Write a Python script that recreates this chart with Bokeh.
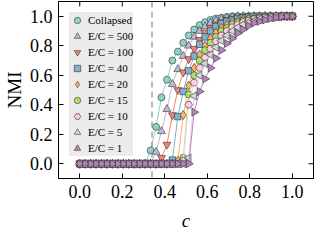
import math
from bokeh.plotting import figure
from bokeh.models import Span, FixedTicker, Range1d
from bokeh.embed import file_html
from bokeh.resources import INLINE

# ---- data -------------------------------------------------------------
c = [0.0, 0.0256, 0.0513, 0.0769, 0.1026, 0.1282, 0.1538, 0.1795, 0.2051, 0.2308,
     0.2564, 0.2821, 0.3077, 0.3333, 0.359, 0.3846, 0.4103, 0.4359, 0.4615, 0.4872,
     0.5128, 0.5385, 0.5641, 0.5897, 0.6154, 0.641, 0.6667, 0.6923, 0.7179, 0.7436,
     0.7692, 0.7949, 0.8205, 0.8462, 0.8718, 0.8974, 0.9231, 0.9487, 0.9744, 1.0]

collapsed = [0, 0, 0, 0, 0, 0, 0, 0, 0, 0, 0, 0, 0, 0.09, 0.25, 0.45, 0.57, 0.70, 0.76, 0.82,
             0.87, 0.91, 0.94, 0.96, 0.975, 0.985, 0.99, 0.995, 1.0, 1.0,
             1.0, 1.0, 1.0, 1.0, 1.0, 1.0, 1.0, 1.0, 1.0, 1.0]
ec500 = [0, 0, 0, 0, 0, 0, 0, 0, 0, 0, 0, 0, 0, 0, 0.08, 0.22, 0.37, 0.54, 0.64, 0.73,
         0.80, 0.86, 0.90, 0.93, 0.955, 0.97, 0.98, 0.99, 0.995, 1.0,
         1.0, 1.0, 1.0, 1.0, 1.0, 1.0, 1.0, 1.0, 1.0, 1.0]
ec100 = [0, 0, 0, 0, 0, 0, 0, 0, 0, 0, 0, 0, 0, 0, 0, 0.04, 0.13, 0.33, 0.50, 0.62,
         0.71, 0.78, 0.84, 0.89, 0.92, 0.945, 0.96, 0.975, 0.985, 0.99,
         0.995, 1.0, 1.0, 1.0, 1.0, 1.0, 1.0, 1.0, 1.0, 1.0]
ec40 = [0, 0, 0, 0, 0, 0, 0, 0, 0, 0, 0, 0, 0, 0, 0, 0, 0, 0.025, 0.32, 0.49,
        0.63, 0.73, 0.81, 0.86, 0.90, 0.93, 0.95, 0.965, 0.975, 0.985,
        0.99, 0.995, 1.0, 1.0, 1.0, 1.0, 1.0, 1.0, 1.0, 1.0]
ec20 = [0, 0, 0, 0, 0, 0, 0, 0, 0, 0, 0, 0, 0, 0, 0, 0, 0, 0, 0.02, 0.33,
        0.53, 0.65, 0.74, 0.80, 0.85, 0.89, 0.92, 0.94, 0.96, 0.97,
        0.98, 0.985, 0.99, 0.995, 1.0, 1.0, 1.0, 1.0, 1.0, 1.0]
ec15 = [0, 0, 0, 0, 0, 0, 0, 0, 0, 0, 0, 0, 0, 0, 0, 0, 0, 0, 0, 0.04,
        0.47, 0.60, 0.70, 0.77, 0.82, 0.86, 0.90, 0.92, 0.945, 0.96,
        0.97, 0.98, 0.985, 0.99, 0.995, 1.0, 1.0, 1.0, 1.0, 1.0]
ec10 = [0, 0, 0, 0, 0, 0, 0, 0, 0, 0, 0, 0, 0, 0, 0, 0, 0, 0, 0, 0.02,
        0.40, 0.55, 0.65, 0.72, 0.78, 0.83, 0.87, 0.90, 0.925, 0.945,
        0.96, 0.97, 0.98, 0.985, 0.99, 0.995, 1.0, 1.0, 1.0, 1.0]
ec5 = [0, 0, 0, 0, 0, 0, 0, 0, 0, 0, 0, 0, 0, 0, 0, 0, 0, 0, 0, 0,
       0.04, 0.46, 0.60, 0.68, 0.74, 0.79, 0.835, 0.87, 0.90, 0.925,
       0.945, 0.96, 0.97, 0.98, 0.985, 0.99, 0.995, 1.0, 1.0, 1.0]
ec1 = [0, 0, 0, 0, 0, 0, 0, 0, 0, 0, 0, 0, 0, 0, 0, 0, 0, 0, 0, 0,
       0, 0.35, 0.49, 0.575, 0.65, 0.715, 0.77, 0.815, 0.85, 0.885,
       0.91, 0.935, 0.955, 0.965, 0.975, 0.985, 0.99, 0.995, 1.0, 1.0]

labels = ["Collapsed", "E/C = 500", "E/C = 100", "E/C = 40", "E/C = 20",
          "E/C = 15", "E/C = 10", "E/C = 5", "E/C = 1"]
series = [collapsed, ec500, ec100, ec40, ec20, ec15, ec10, ec5, ec1]
colors = ["#8dd3c7", "#bebada", "#fb8072", "#80b1d3", "#fdb462",
          "#b3de69", "#fccde5", "#d9d9d9", "#bc80bd"]
markers = ["circle", "triangle", "inverted_triangle", "square", "diamond",
           "circle", "hex", "triangle", "triangle"]
angles = [0, 0, 0, 0, 0, 0, 0, math.pi / 2, -math.pi / 2]
sizes = [7, 8, 8, 6.5, 9, 7, 7.5, 8, 8]

threshold = 0.34
xticks = [0.0, 0.2, 0.4, 0.6, 0.8, 1.0]
yticks = [0.0, 0.2, 0.4, 0.6, 0.8, 1.0]
x_lo, x_hi = -0.1, 1.1
y_lo, y_hi = -0.1, 1.1

# ---- figure -----------------------------------------------------------
FONT = "Liberation Serif"
p = figure(width=316, height=233, output_backend="svg", toolbar_location=None,
           x_range=Range1d(x_lo, x_hi), y_range=Range1d(y_lo, y_hi),
           min_border_left=2, min_border_right=3, min_border_top=1, min_border_bottom=2)
p.grid.visible = False
p.outline_line_color = "black"
p.outline_line_width = 1
p.background_fill_color = "white"

for ax in (p.xaxis[0], p.yaxis[0]):
    ax.major_tick_in = 5
    ax.major_tick_out = 0
    ax.minor_tick_line_color = None
    ax.axis_line_color = "black"
    ax.major_tick_line_color = "black"
    ax.major_label_text_font = FONT
    ax.major_label_text_font_size = "18px"
    ax.major_label_text_color = "black"
    ax.axis_label_text_font = FONT
    ax.axis_label_text_font_size = "19px"
    ax.axis_label_text_color = "black"
p.xaxis.ticker = FixedTicker(ticks=xticks)
p.yaxis.ticker = FixedTicker(ticks=yticks)
p.xaxis.major_label_standoff = 6
p.yaxis.major_label_standoff = 6
p.xaxis.axis_label = "c"
p.xaxis.axis_label_text_font_style = "italic"
p.xaxis.axis_label_standoff = 9
p.yaxis.axis_label = "NMI"
p.yaxis.axis_label_text_font_style = "normal"
p.yaxis.axis_label_standoff = 2
p.xaxis.major_label_overrides = {t: f"{t:.1f}" for t in xticks}
p.yaxis.major_label_overrides = {t: f"{t:.1f}" for t in yticks}

# inward ticks on the top and right frame edges
p.ray(x=xticks, y=y_hi, length=5, length_units="screen", angle=-math.pi / 2,
      line_color="black", line_width=1)
p.ray(x=x_hi, y=yticks, length=5, length_units="screen", angle=math.pi,
      line_color="black", line_width=1)

p.add_layout(Span(location=threshold, dimension="height", line_color="#8a8a8a",
                  line_dash="6 4", line_width=1.2))

for lab, ys, col, mk, ang, sz in zip(labels, series, colors, markers, angles, sizes):
    p.line(c, ys, line_color=col, line_width=1)
    p.scatter(c, ys, marker=mk, angle=ang, size=sz, fill_color=col,
              line_color="#333333", line_width=0.6, legend_label=lab)

lg = p.legend[0]
lg.location = "top_left"
lg.background_fill_color = "#ebebeb"
lg.background_fill_alpha = 1
lg.border_line_color = None
lg.margin = 11
lg.padding = 3
lg.spacing = 0
lg.glyph_width = 16
lg.glyph_height = 16
lg.label_height = 16
lg.label_standoff = 3
lg.label_text_font = FONT
lg.label_text_font_size = "11px"
lg.label_text_color = "black"

open("out.html", "w").write(file_html(p, INLINE))
